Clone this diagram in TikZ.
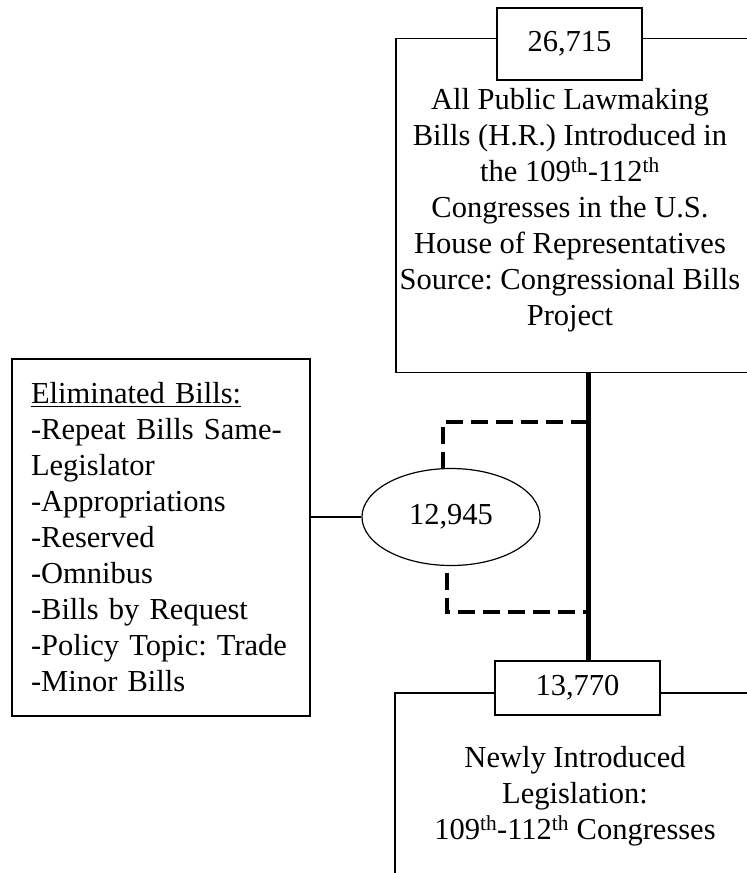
\documentclass[tikz,border=0pt]{standalone}
\usepackage{fontspec}
\setmainfont{Liberation Serif}
\usetikzlibrary{shapes.geometric,calc}

\begin{document}
\frenchspacing
\begin{tikzpicture}[
	x=1pt, y=-1pt,
	every node/.style={color=black, font=\fontsize{30.5}{36}\selectfont},
	thin line/.style={line width=1.2pt},
	frame box/.style={draw, thin line, rectangle, inner sep=0pt},
	count box/.style={draw, thin line, rectangle, fill=white, minimum height=54pt},
	trunk line/.style={line width=5pt},
	split line/.style={line width=4.5pt, dash pattern=on 17pt off 8pt}
	]
	\clip (0,0) rectangle (747,873);
	% boxes
	\node[frame box, minimum width=356pt, minimum height=334pt] (allbox) at (574,205.5) {};
	\node[align=center] (alltext) at (570,210)
	{All Public Lawmaking\\ Bills (H.R.) Introduced in\\ the 109\textsuperscript{th}-112\textsuperscript{th}\\ Congresses in the U.S.\\ House of Representatives\\ Source: Congressional Bills\\ Project};
	\node[count box, minimum width=145pt, minimum height=72pt] (alllabel) at (569.5,44) {26,715};
	\node[frame box, minimum width=360pt, minimum height=400pt] (newbox) at (575,893) {};
	\node[align=center] (newtext) at (575,796)
	{Newly Introduced\\ Legislation:\\ 109\textsuperscript{th}-112\textsuperscript{th} Congresses};
	\node[count box, minimum width=165pt] (newlabel) at (577.5,688) {13,770};
	\node[frame box, text width=260pt, align=left, inner xsep=19pt, minimum height=357pt] (elim) at (161,537.5)
	{\underline{Eliminated Bills:}\\ -Repeat Bills Same-\\ Legislator\\ -Appropriations\\ -Reserved\\ -Omnibus\\ -Bills by Request\\ -Policy Topic: Trade\\ -Minor Bills};
	\node[draw, thin line, ellipse, minimum width=178pt, minimum height=97pt] (removed) at (451,517) {12,945};
	% Lines
	\coordinate (split1) at (588,422);
	\coordinate (split2) at (588,612);
	\draw[trunk line] (allbox.south -| split1) -- (newlabel.north -| split1);
	\draw[thin line] (removed.west) -- (removed.west -| elim.east);
	\draw[split line] (split1) -| ([xshift=-8pt]removed.north);
	\draw[split line] ([xshift=-4pt, yshift=-7pt]removed.south) |- (split2);
\end{tikzpicture}
\end{document}
